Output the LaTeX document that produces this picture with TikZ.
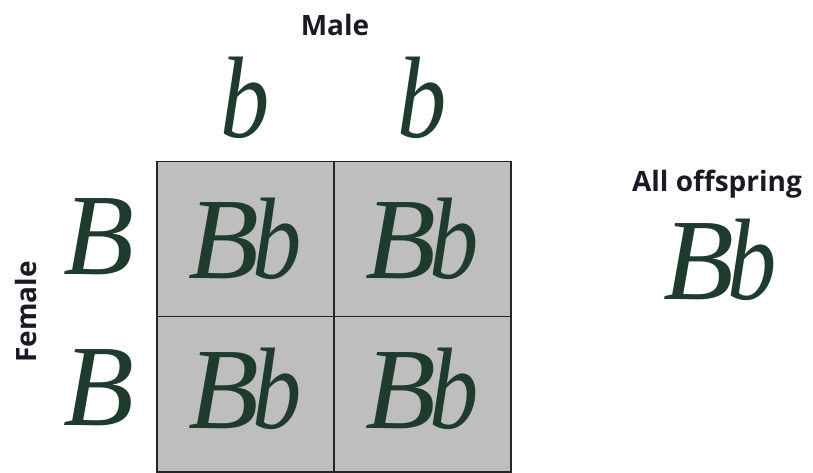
\documentclass[tikz,border=0pt]{standalone}
\usepackage{fontspec}
\setmainfont{Liberation Serif}
\setsansfont{Open Sans}
\usetikzlibrary{positioning}
\definecolor{allelegreen}{HTML}{1F3B2D}
\definecolor{cellgray}{HTML}{BEBEBE}
\definecolor{labelink}{HTML}{1A1A24}
\newcommand{\lowb}{\scalebox{0.85}[1]{b}}
\newcommand{\geno}{B\kern-0.06em\lowb}

\begin{document}
\begin{tikzpicture}[
  x=0.75pt, y=-0.75pt,
  allele/.style={font=\fontsize{87}{87}\selectfont\itshape, text=allelegreen, inner sep=0pt},
  cell/.style={allele, draw=black!85, line width=1.1pt, fill=cellgray, outer sep=0pt,
    minimum width=132.75pt, minimum height=116.6pt},
  lbl/.style={font=\sffamily\bfseries\fontsize{21}{25}\selectfont, text=labelink}
]
\useasboundingbox (0,0) rectangle (813,473);
% punnett square
\node[cell] (c11) at (245.5,239) {\geno};
\node[cell, right=0pt of c11] (c12) {\geno};
\node[cell, below=0pt of c11, text depth=9pt] (c21) {\geno};
\node[cell, right=0pt of c21, text depth=9pt] (c22) {\geno};
% gametes
\node[allele] (male1) at (c11 |- 0,98) {\lowb};
\node[allele] (male2) at (c12 |- 0,98) {\lowb};
\node[allele] (fem1) at (99,237) {B};
\node[allele] (fem2) at (99,388) {B};
\node[lbl] (male) at (335,25) {Male};
\node[lbl, rotate=90] (female) at (26,312) {Female};
% result
\node[lbl] (all) at (717,184) {All offspring};
\node[allele] (res) at (720,260) {\geno};
\end{tikzpicture}
\end{document}
